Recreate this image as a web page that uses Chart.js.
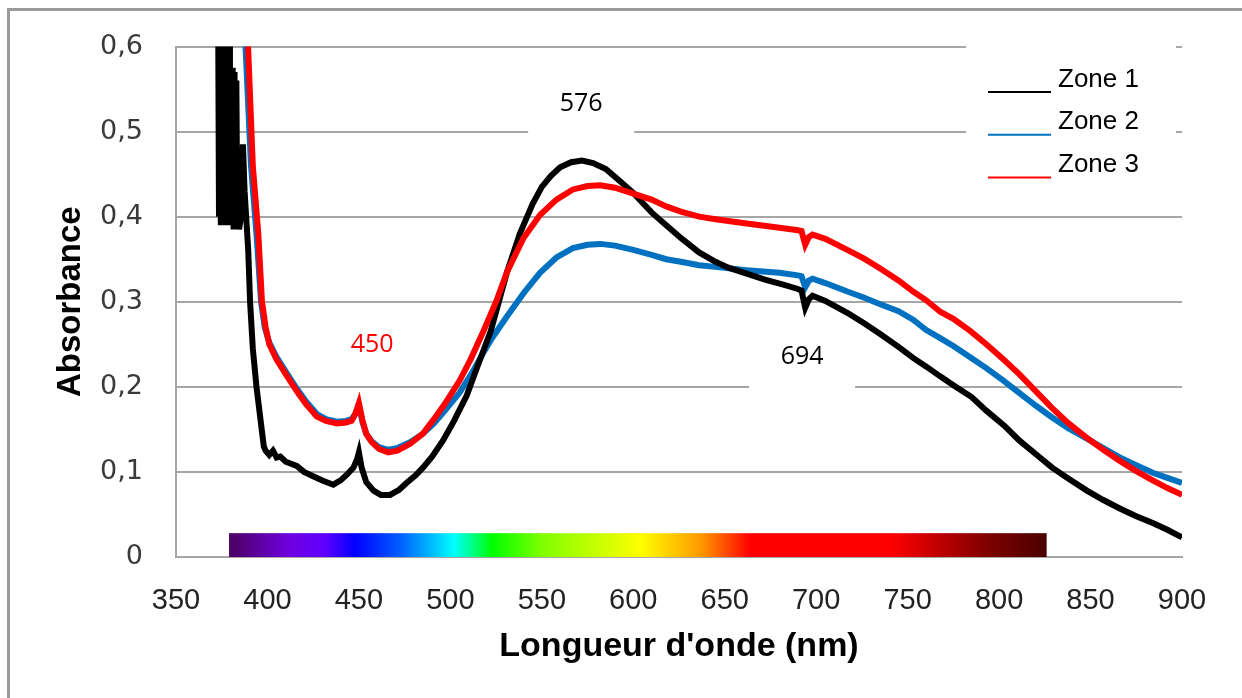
<!DOCTYPE html>
<html lang="fr">
<head>
<meta charset="utf-8">
<title>Absorbance - zones</title>
<script src="https://cdn.jsdelivr.net/npm/chart.js@4.4.1/dist/chart.umd.min.js"></script>
<style>
  html, body { margin: 0; padding: 0; background: #fff; }
  #wrap { position: relative; width: 1242px; height: 698px; overflow: hidden; }
  #frame { position: absolute; left: 7px; top: 8px; width: 1300px; height: 800px;
           border-left: 3px solid #9a9a9a; border-top: 3px solid #9a9a9a; }
  #c { position: absolute; left: 0; top: 0; }
</style>
</head>
<body>
<div id="wrap"><div id="frame"></div><canvas id="c" width="1242" height="698"></canvas></div>
<script>
// ---- data (wavelength nm, absorbance) ----
const zone1Points = [
  [373,0.66],[373.5,0.40],[374,0.65],[374.5,0.39],[375,0.67],[375.5,0.41],[376,0.64],[376.5,0.39],
  [377,0.66],[377.5,0.40],[378,0.65],[378.5,0.39],[379,0.63],[379.5,0.40],[380,0.57],[380.5,0.39],
  [381,0.575],[381.5,0.385],[382,0.57],[382.5,0.39],[383,0.56],[383.5,0.40],[384,0.45],[384.5,0.385],
  [385.5,0.40],[386.6,0.485],
  [387.5,0.43],[389.5,0.36],[390.5,0.30],[392,0.245],[394,0.20],[396,0.165],[398,0.13],[399,0.125],
  [401,0.12],[403,0.125],[405,0.117],[407,0.118],[410,0.112],[416,0.107],[420,0.100],[425,0.095],
  [430,0.090],[436,0.085],[440,0.09],[443.5,0.097],[447,0.105],[449,0.115],[450,0.123],[451.5,0.105],
  [454,0.088],[458,0.078],[462,0.073],[467,0.073],[472,0.079],[476,0.087],[481,0.096],[485,0.105],
  [490,0.118],[496,0.137],[502,0.16],[509,0.19],[515,0.225],[522,0.265],[531,0.335],[538,0.38],
  [545,0.415],[550,0.435],[555,0.448],[560,0.458],[566,0.464],[572,0.466],[578,0.463],[585,0.456],
  [592,0.443],[600,0.428],[610,0.405],[618,0.39],[626,0.375],[636,0.358],[644,0.348],[652,0.340],
  [662,0.333],[672,0.326],[682,0.32],[690,0.315],[692,0.313],[694,0.293],[696,0.303],[698,0.307],
  [705,0.301],[717,0.287],[726,0.275],[735,0.262],[745,0.247],[753,0.234],[760,0.224],[768,0.212],
  [775,0.202],[785,0.188],[793,0.172],[803,0.154],[811,0.137],[820,0.121],[829,0.105],[838,0.092],
  [848,0.078],[857,0.067],[866,0.057],[875,0.048],[884,0.040],[892,0.032],[900,0.023]
];
const zone2Points = [
  [384,0.75],[388,0.60],[391,0.46],[394,0.38],[396.5,0.30],[398.5,0.27],[401,0.252],[405,0.235],
  [410,0.218],[416,0.198],[421,0.183],[427,0.168],[432,0.162],[438,0.159],[443,0.16],[446,0.162],
  [448,0.168],[450,0.178],[452,0.158],[454,0.145],[457,0.136],[461,0.129],[466,0.126],[471,0.128],
  [478,0.135],[485,0.145],[491,0.157],[497,0.172],[505,0.193],[512,0.217],[518,0.24],[523,0.258],
  [531,0.283],[540,0.31],[549,0.334],[558,0.352],[567,0.363],[575,0.367],[582,0.368],[590,0.366],
  [600,0.361],[610,0.355],[618,0.35],[626,0.347],[636,0.343],[645,0.341],[662,0.337],[680,0.334],
  [690,0.331],[692,0.330],[694,0.317],[696,0.325],[698,0.327],[705,0.322],[717,0.312],[726,0.305],
  [735,0.297],[745,0.289],[753,0.279],[760,0.267],[768,0.257],[775,0.248],[784,0.235],[793,0.222],
  [802,0.208],[811,0.193],[820,0.178],[829,0.164],[838,0.151],[848,0.139],[857,0.128],[866,0.117],
  [875,0.108],[884,0.099],[892,0.093],[900,0.087]
];
const zone3Points = [
  [385,0.75],[389.4,0.60],[392,0.46],[395,0.38],[397,0.30],[399,0.27],[401,0.25],[405,0.232],
  [410,0.215],[416,0.195],[421,0.18],[427,0.165],[432,0.16],[438,0.157],[443,0.158],[446,0.160],
  [448,0.168],[450,0.181],[452,0.16],[454,0.145],[457,0.135],[461,0.127],[466,0.123],[471,0.125],
  [478,0.133],[485,0.145],[491,0.162],[497,0.18],[505,0.207],[511,0.232],[518,0.265],[525,0.30],
  [531,0.335],[540,0.375],[549,0.402],[558,0.42],[567,0.432],[575,0.436],[582,0.437],[590,0.434],
  [600,0.427],[610,0.42],[618,0.412],[626,0.406],[636,0.400],[645,0.397],[662,0.392],[680,0.387],
  [690,0.384],[692,0.383],[694,0.367],[696,0.376],[698,0.379],[705,0.374],[717,0.361],[726,0.351],
  [735,0.339],[745,0.325],[753,0.312],[760,0.302],[768,0.288],[775,0.28],[784,0.266],[793,0.25],
  [802,0.233],[811,0.215],[820,0.195],[829,0.175],[838,0.157],[848,0.14],[857,0.126],[866,0.113],
  [875,0.101],[884,0.09],[892,0.081],[900,0.073]
];
const zoneNames = ['Zone 1', 'Zone 2', 'Zone 3'];

// peak labels (text, wavelength, absorbance where the text sits)
const peakText = ['576', '694', '450'];
const peakWl   = [571.5, 692.3, 457.2];
const peakAbs  = [0.533, 0.235, 0.249];

// visible-spectrum strip under the curves
const spectrumWl = [379, 412, 431, 448, 473, 502, 523, 550, 604, 637, 664, 740, 793, 826];
const spectrumColors = ['#4a0060','#7000e0','#6000ff','#0000ff','#0060ff','#00ffff','#00ff00',
                        '#80ff00','#ffff00','#ff9900','#ff0000','#ff0000','#800000','#4a0000'];

const xTicks = [350, 400, 450, 500, 550, 600, 650, 700, 750, 800, 850, 900];

const toXY = pts => pts.map(p => ({ x: p[0], y: p[1] }));

// strip, white label boxes and legend box go under the curves, over the grid
const underlay = {
  id: 'underlay',
  beforeDatasetsDraw(chart) {
    const { ctx, chartArea: a, scales: { x, y } } = chart;
    ctx.save();
    // spectrum
    const x0 = x.getPixelForValue(spectrumWl[0]);
    const x1 = x.getPixelForValue(spectrumWl[spectrumWl.length - 1]);
    const g = ctx.createLinearGradient(x0, 0, x1, 0);
    spectrumWl.forEach((w, i) => g.addColorStop((x.getPixelForValue(w) - x0) / (x1 - x0), spectrumColors[i]));
    ctx.fillStyle = g;
    const yTop = y.getPixelForValue(0.028), yBot = y.getPixelForValue(0);
    ctx.fillRect(x0, yTop, x1 - x0, yBot - yTop);
    // label boxes
    ctx.fillStyle = '#fff';
    peakText.forEach((t, i) => {
      const cx = x.getPixelForValue(peakWl[i]), cy = y.getPixelForValue(peakAbs[i]);
      ctx.fillRect(cx - 53, cy - 33, 106, 66);
    });
    // legend box
    ctx.fillRect(a.right - 216, a.top - 6, 210, 160);
    ctx.restore();
  },
  afterDatasetsDraw(chart) {
    const { ctx, chartArea: a, scales: { x, y } } = chart;
    ctx.save();
    ctx.textAlign = 'center'; ctx.textBaseline = 'middle';
    ctx.font = '25px "Open Sans"';
    peakText.forEach((t, i) => {
      ctx.fillStyle = i === 2 ? '#ff0000' : '#000';
      ctx.fillText(t, x.getPixelForValue(peakWl[i]), y.getPixelForValue(peakAbs[i]));
    });
    // legend: "_____ Zone n" with coloured underline
    ctx.textAlign = 'left';
    ctx.font = '26px "Liberation Sans"';
    chart.data.datasets.forEach((ds, i) => {
      const ty = a.top + 33 + i * 42.7;
      ctx.fillStyle = '#000';
      ctx.fillText(zoneNames[i], a.right - 124, ty);
      ctx.strokeStyle = ds.borderColor; ctx.lineWidth = 2;
      ctx.beginPath();
      ctx.moveTo(a.right - 194, ty + 12.5);
      ctx.lineTo(a.right - 131, ty + 12.5);
      ctx.stroke();
    });
    ctx.restore();
  }
};

const gridGray = '#a6a6a6';

new Chart(document.getElementById('c'), {
  type: 'line',
  data: {
    datasets: [
      { label: zoneNames[0], data: toXY(zone1Points), borderColor: '#000000', order: 2 },
      { label: zoneNames[1], data: toXY(zone2Points), borderColor: '#0070c0', order: 3 },
      { label: zoneNames[2], data: toXY(zone3Points), borderColor: '#ff0000', order: 1 },
    ]
  },
  options: {
    responsive: false, animation: false,
    elements: { line: { borderWidth: 6, tension: 0, fill: false }, point: { radius: 0 } },
    layout: { padding: { left: 50, right: 60, top: 44, bottom: 20 } },
    plugins: { legend: { display: false }, tooltip: { enabled: false } },
    scales: {
      x: {
        type: 'linear', min: 350, max: 900,
        afterBuildTicks: s => { s.ticks = xTicks.map(v => ({ value: v })); },
        afterFit: s => { s.height = 121; },
        grid: { display: false, drawTicks: false },
        border: { display: true, color: gridGray, width: 2 },
        ticks: { padding: 29, color: '#222', font: { family: 'Liberation Sans', size: 29, lineHeight: 1 } },
        title: { display: true, text: "Longueur d'onde (nm)", color: '#000',
                 padding: { top: 0, bottom: 14 },
                 font: { family: 'Liberation Sans', size: 34, weight: 'bold', lineHeight: 1 } }
      },
      y: {
        min: 0, max: 0.6,
        afterFit: s => { s.width = 126; },
        grid: { color: gridGray, lineWidth: 2, drawTicks: false },
        border: { display: true, color: gridGray, width: 2 },
        ticks: { stepSize: 0.1, padding: 33, color: '#3a3a3a',
                 font: { family: 'DejaVu Sans', size: 27, lineHeight: 1 },
                 callback: v => v === 0 ? '0' : v.toFixed(1).replace('.', ',') },
        title: { display: true, text: 'Absorbance', color: '#000',
                 padding: { top: 4, bottom: 0 },
                 font: { family: 'Liberation Sans', size: 33, weight: 'bold', lineHeight: 1 } }
      }
    }
  },
  plugins: [underlay]
});
</script>
</body>
</html>
